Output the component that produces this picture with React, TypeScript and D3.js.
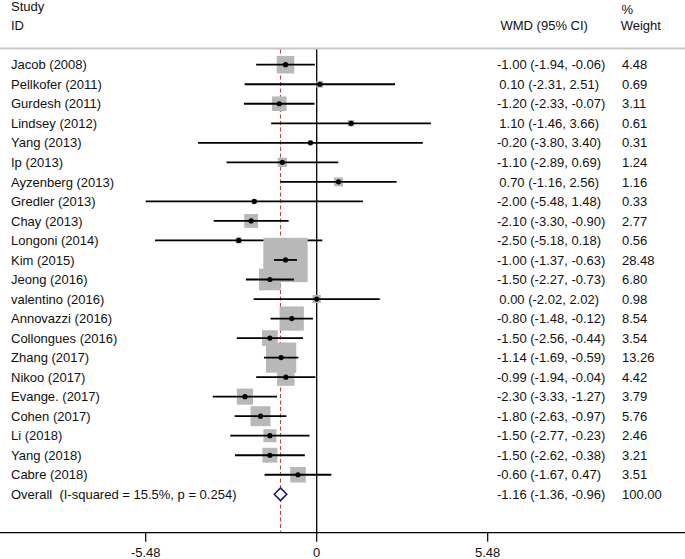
import React from "react";
import * as d3 from "d3";

const studies = [
  "Jacob (2008)", "Pellkofer (2011)", "Gurdesh (2011)", "Lindsey (2012)", "Yang (2013)",
  "Ip (2013)", "Ayzenberg (2013)", "Gredler (2013)", "Chay (2013)", "Longoni (2014)",
  "Kim (2015)", "Jeong (2016)", "valentino (2016)", "Annovazzi (2016)", "Collongues (2016)",
  "Zhang (2017)", "Nikoo (2017)", "Evange. (2017)", "Cohen (2017)", "Li (2018)",
  "Yang (2018)", "Cabre (2018)",
];
const wmd = [-1.0, 0.1, -1.2, 1.1, -0.2, -1.1, 0.7, -2.0, -2.1, -2.5, -1.0, -1.5, 0.0, -0.8, -1.5, -1.14, -0.99, -2.3, -1.8, -1.5, -1.5, -0.6];
const lower = [-1.94, -2.31, -2.33, -1.46, -3.8, -2.89, -1.16, -5.48, -3.3, -5.18, -1.37, -2.27, -2.02, -1.48, -2.56, -1.69, -1.94, -3.33, -2.63, -2.77, -2.62, -1.67];
const upper = [-0.06, 2.51, -0.07, 3.66, 3.4, 0.69, 2.56, 1.48, -0.9, 0.18, -0.63, -0.73, 2.02, -0.12, -0.44, -0.59, -0.04, -1.27, -0.97, -0.23, -0.38, 0.47];
const weights = [4.48, 0.69, 3.11, 0.61, 0.31, 1.24, 1.16, 0.33, 2.77, 0.56, 28.48, 6.8, 0.98, 8.54, 3.54, 13.26, 4.42, 3.79, 5.76, 2.46, 3.21, 3.51];

const overallLabel = "Overall  (I-squared = 15.5%, p = 0.254)";
const overallEst = -1.16;
const overallLow = -1.36;
const overallHigh = -0.96;
const overallWeight = 100.0;

const axisTicks = [-5.48, 0, 5.48];

const W = 685;
const H = 559;
const FONT = "'Liberation Sans', Arial, sans-serif";
const TXT = "#111";

const f2 = d3.format(".2f");
const fmt = (v: number) => f2(v).replace("\u2212", "-");

export default function App() {
  const x = d3.scaleLinear().domain([-5.48, 5.48]).range([145.7, 487.7]);
  const n = studies.length;
  const y = d3.scaleLinear().domain([0, n]).range([64.7, 494.3]);
  const boxK = 8.3;
  const topY = 48.5;
  const axisY = 532.7;

  const ciText = (e: number, l: number, u: number) => `${fmt(e)} (${fmt(l)}, ${fmt(u)})`;
  const ciX = (e: number) => (e < 0 ? 497 : 499.3);

  const ox = x(overallEst);
  const oy = y(n);

  return (
    <svg width={W} height={H} style={{ position: "absolute", left: 0, top: 0, background: "#fff" }} fontFamily={FONT} fontSize={13}>
      <rect width={W} height={H} fill="#fff" />
      {/* header */}
      <text x={11} y={11} fill={TXT}>Study</text>
      <text x={11} y={29.5} fill={TXT}>ID</text>
      <text x={500.5} y={29.5} fill={TXT}>WMD (95% CI)</text>
      <text x={621.5} y={14} fill={TXT}>%</text>
      <text x={620.7} y={29.5} fill={TXT}>Weight</text>
      <line x1={0} x2={W} y1={topY} y2={topY} stroke="#c8c8c8" strokeWidth={2} />

      {/* reference lines */}
      <line x1={x(0)} x2={x(0)} y1={topY + 1} y2={axisY} stroke="#000" strokeWidth={1.3} />
      <line x1={ox} x2={ox} y1={topY + 1} y2={axisY} stroke="#b5474b" strokeWidth={1.1} strokeDasharray="4,2.5" />

      {/* studies */}
      {studies.map((s, i) => {
        const cy = y(i);
        const side = boxK * Math.sqrt(weights[i]);
        return (
          <g key={s}>
            <rect x={x(wmd[i]) - side / 2} y={cy - side / 2} width={side} height={side} fill="#b8b8b8" />
            <line x1={x(lower[i])} x2={x(upper[i])} y1={cy} y2={cy} stroke="#000" strokeWidth={1.8} />
            <circle cx={x(wmd[i])} cy={cy} r={2.6} fill="#000" />
            <text x={11} y={cy} dy="0.36em" fill={TXT}>{s}</text>
            <text x={ciX(wmd[i])} y={cy} dy="0.36em" fill={TXT}>{ciText(wmd[i], lower[i], upper[i])}</text>
            <text x={622} y={cy} dy="0.36em" fill={TXT}>{fmt(weights[i])}</text>
          </g>
        );
      })}

      {/* overall */}
      <path
        d={`M${x(overallLow)},${oy} L${ox},${oy - 6.3} L${x(overallHigh)},${oy} L${ox},${oy + 6.3} Z`}
        fill="#fff"
        stroke="#1c1c80"
        strokeWidth={1.6}
      />
      <text x={11} y={oy} dy="0.36em" fill={TXT} style={{ whiteSpace: "pre" }}>{overallLabel}</text>
      <text x={ciX(overallEst)} y={oy} dy="0.36em" fill={TXT}>{ciText(overallEst, overallLow, overallHigh)}</text>
      <text x={622} y={oy} dy="0.36em" fill={TXT}>{fmt(overallWeight)}</text>

      {/* axis */}
      <line x1={0} x2={W} y1={axisY} y2={axisY} stroke="#000" strokeWidth={1.2} />
      {axisTicks.map((t) => (
        <g key={t}>
          <line x1={x(t)} x2={x(t)} y1={axisY} y2={axisY + 9} stroke="#000" strokeWidth={1.2} />
          <text x={x(t)} y={557} textAnchor="middle" fill={TXT}>{t === 0 ? "0" : fmt(t)}</text>
        </g>
      ))}
    </svg>
  );
}
